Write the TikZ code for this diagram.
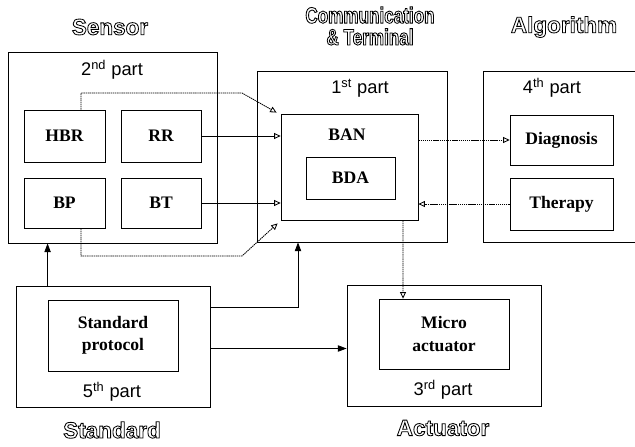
\documentclass[tikz,border=0pt]{standalone}
\usepackage{fontspec}
\setmainfont{Liberation Serif}
\setsansfont{Liberation Sans}
\newfontfamily\titlefont{Liberation Sans}
\newfontfamily\titlenarrow[FakeStretch=0.76]{Liberation Sans}
\usetikzlibrary{arrows.meta,positioning,calc}
\newcommand{\hollow}[1]{\special{pdf:literal direct 1 Tr 0.6 w}#1\special{pdf:literal direct 0 Tr}}

\begin{document}
\begin{tikzpicture}[
    x=0.025cm, y=-0.025cm,
    box/.style={draw, line width=0.6pt, inner sep=0pt},
    sz/.style 2 args={minimum width=#1*0.025cm, minimum height=#2*0.025cm},
    unit/.style={box, align=center, font=\bfseries\fontsize{12.5}{16}\selectfont},
    part/.style={font=\sffamily\fontsize{13}{15}\selectfont},
    title/.style={align=center, font=\titlefont\bfseries\fontsize{16}{15.5}\selectfont},
    arr/.style={line width=0.6pt, -{Triangle[length=2.2mm,width=1.6mm]}},
    oarr/.style={line width=0.6pt, -{Triangle[open,length=1.6mm,width=1.5mm]}},
    darr/.style={oarr, dash pattern=on 1pt off 0.5pt}
]
\useasboundingbox (0,0) rectangle (635,446);

% outer blocks
\node[box, sz={209}{191}] (sensor) at (112.5,147.5) {};
\node[box, sz={190}{171}] (comm) at (352,156.5) {};
\node[box, sz={158}{171}] (algo) at (562,156.5) {};
\node[box, sz={194}{121}] (std) at (113,346.5) {};
\node[box, sz={194}{121}] (act) at (444,345.5) {};

% titles
\node[title] (tsensor) at (110,27) {\hollow{Sensor}};
\node[title, font=\titlenarrow\bfseries\fontsize{16}{15.5}\selectfont] (tcomm) at (370,26) {\hollow{Communication}\\\hollow{\& Terminal}};
\node[title] (talgo) at (564,27) {\hollow{Algorithm}};
\node[title] (tstd) at (112,430) {\hollow{Standard}};
\node[title] (tact) at (443,428) {\hollow{Actuator}};

% part labels
\node[part] (p2) at (112,70) {2\textsuperscript{nd} part};
\node[part] (p1) at (360,88) {1\textsuperscript{st} part};
\node[part] (p4) at (552,88) {4\textsuperscript{th} part};
\node[part] (p5) at (112,392) {5\textsuperscript{th} part};
\node[part] (p3) at (443,390) {3\textsuperscript{rd} part};

% inner units
\node[unit, sz={81}{52}] (hbr) at (64.5,136) {HBR};
\node[unit, sz={80}{52}] (rr) at (161,136) {RR};
\node[unit, sz={81}{50}] (bp) at (64.5,203) {BP};
\node[unit, sz={80}{50}] (bt) at (161,203) {BT};
\node[box, sz={137}{106}] (ban) at (349.5,167) {};
\node[font=\bfseries\fontsize{12.5}{16}\selectfont] (banlbl) at (347,135) {BAN};
\node[unit, sz={89}{42}] (bda) at (350.5,178) {BDA};
\node[unit, sz={103}{50}] (diag) at (561.5,140) {Diagnosis};
\node[unit, sz={103}{52}] (ther) at (561.5,204) {Therapy};
\node[unit, sz={130}{71}] (proto) at (113,335.5) {Standard\\protocol};
\node[unit, sz={130}{70}] (micro) at (444,334) {Micro\\actuator};

% connectors
\draw[darr] ($(hbr.north)+(16.5,0)$) |- (242,93) -- ($(ban.north west)+(-4,-1)$);
\draw[oarr] (rr.east) -- (rr.east -| ban.west);
\draw[oarr] (bt.east) -- (bt.east -| ban.west);
\draw[darr] ($(bp.south)+(16.5,0)$) |- (242,256) -- ($(ban.south west)+(-3,3)$);
\draw[darr] (diag.west -| ban.east) -- (diag.west);
\draw[darr] (ther.west) -- (ther.west -| ban.east);
\draw[darr] ($(ban.south)+(53.5,0)$) -- ($(micro.north)+(-41,0)$);
\draw[arr] ($(std.north west)+(32,0)$) -- ($(sensor.south west)+(40,0)$);
\draw[arr] ($(std.east)+(0,-39.5)$) -| ($(comm.south)+(-54,0)$);
\draw[arr] ($(std.east)+(0,2)$) -- ($(act.west)+(0,3)$);
\end{tikzpicture}
\end{document}
